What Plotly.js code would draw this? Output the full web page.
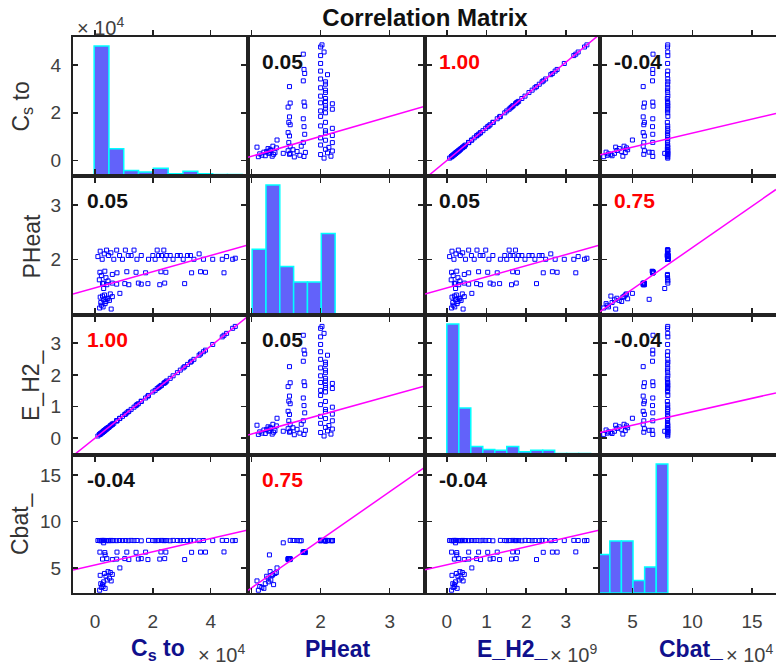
<!DOCTYPE html>
<html><head><meta charset="utf-8">
<script src="https://cdn.plot.ly/plotly-3.0.1.min.js"></script>
<style>html,body{margin:0;padding:0;overflow:hidden;background:#fff}</style>
</head><body><div id="chart" style="width:776px;height:669px"></div>
<script>
// ---------------- data ----------------
const varNames = ['C<sub>s</sub> to', 'PHeat', 'E_H2_', 'Cbat_'];
const xExponent = ['× 10<sup>4</sup>', '', '× 10<sup>9</sup>', '× 10<sup>4</sup>'];

// distinct observations (overlapping points carry a multiplicity)
const csTo = [0.16,0.22,0.28,0.35,0.20,0.30,0.42,0.50,0.26,0.56,0.18,0.33,0.45,0.60,0.38,0.53,
  0.86,0.30,0.35,
  0.15,0.22,0.30,0.38,0.45,0.60,
  0.26,0.41,0.60,0.75,1.03,1.17,1.50,1.60,1.83,2.24,2.41,3.10,
  0.17,0.34,0.76,1.10,1.42,1.75,2.28,2.45,3.34,3.65,3.82,4.46,
  0.10,0.18,0.25,0.32,0.40,0.47,0.55,0.65,0.75,0.85,0.95,
  1.05,1.15,1.25,1.35,1.45,1.60,1.85,2.00,2.08,2.15,2.20,2.30,2.38,2.42,2.48,2.60,2.70,2.85,2.95,3.05,3.20,3.30,3.42,3.60,3.75,4.07,4.40,4.55,4.76,4.85];
const pHeat = [1.10,1.15,1.12,1.18,1.20,1.25,1.28,1.24,1.32,1.08,1.30,1.34,1.27,1.31,1.22,1.36,
  1.37,1.46,1.26,
  1.62,1.70,1.56,1.66,1.60,1.72,
  1.55,1.53,1.56,1.54,1.55,1.53,1.56,1.54,1.55,1.53,1.56,1.55,
  1.76,1.78,1.75,1.77,1.76,1.75,1.77,1.76,1.75,1.77,1.76,1.75,
  2.05,2.15,2.00,2.10,2.17,2.07,2.12,2.00,2.17,2.07,2.00,
  2.17,2.07,2.07,2.17,2.00,2.07,2.00,2.07,2.00,2.17,2.07,2.07,2.17,2.00,2.07,2.07,2.00,2.07,2.07,2.00,2.07,2.07,2.00,2.10,2.00,2.00,2.00,2.05,2.00,2.02];
const eH2 = [0.12,0.16,0.20,0.26,0.15,0.22,0.31,0.36,0.19,0.41,0.13,0.24,0.33,0.44,0.28,0.39,
  0.63,0.22,0.25,
  0.11,0.16,0.22,0.28,0.33,0.44,
  0.19,0.30,0.44,0.55,0.75,0.85,1.09,1.17,1.33,1.63,1.75,2.26,
  0.12,0.25,0.55,0.80,1.03,1.27,1.66,1.78,2.43,2.66,2.78,3.25,
  0.07,0.13,0.18,0.23,0.29,0.34,0.40,0.47,0.55,0.62,0.69,
  0.76,0.84,0.91,0.98,1.06,1.16,1.35,1.46,1.51,1.57,1.60,1.67,1.73,1.76,1.81,1.89,1.97,2.07,2.15,2.22,2.33,2.40,2.49,2.62,2.73,2.96,3.20,3.31,3.47,3.53];
const cBat = [2.6,2.9,3.0,2.8,3.3,3.5,3.7,3.9,3.2,3.6,4.2,4.4,4.6,4.3,4.1,4.5,
  5.0,7.7,6.4,
  7.95,7.92,7.96,7.94,7.95,7.93,
  5.95,6.0,5.9,5.95,6.0,5.9,5.95,6.0,5.9,5.95,6.0,5.9,
  6.7,6.65,6.7,6.7,6.68,6.7,6.72,6.7,6.68,6.7,6.7,6.72,
  7.95,7.93,7.96,7.94,7.95,7.92,7.96,7.95,7.93,7.95,7.94,
  7.95,7.93,7.96,7.94,7.95,7.92,7.96,7.95,7.93,7.95,7.94,7.96,7.93,7.95,7.94,7.92,7.96,7.95,7.93,7.95,7.94,7.96,7.95,7.93,7.95,7.94,7.96,7.95,7.93,7.95];
const mult = [12,12,11,12,8,12,12,10,10,7,12,12,12,8,8,7,
  1,1,1,
  8,5,20,5,15,4,
  1,1,1,1,1,1,1,1,1,1,1,1,
  2,2,1,1,1,1,1,1,1,1,1,1,
  10,10,10,10,8,6,5,3,3,3,2,
  1,1,1,1,1,1,1,1,1,1,1,1,1,1,1,1,1,1,1,1,1,1,1,1,1,1,1,1,1,1];

// correlation coefficients printed in the panels
const corrCoef = [[1,0.05,1.00,-0.04],[0.05,1,0.05,0.75],[1.00,0.05,1,-0.04],[-0.04,0.75,-0.04,1]];

// histogram bins (diagonal)
const histStart = [-0.03, 1.01, 0.0, 2.14];
const histWidth = [0.512, 0.2, 0.302, 0.97];
const histCs = [167,35,7,5,10,3,6,3,2,2];
const histPH = [42,83,31,21,21,52];
const histEH = [167,60,11,7,6,11,4,6,6,2,2,2];
const histCb = [31,42,42,10,21,104];

// axes
const xRanges = [[-0.76,5.29],[0.95,3.51],[-0.55,3.86],[2.29,17.0]];
const yRanges = [[-0.65,5.18],[0.97,3.54],[-0.53,3.89],[2.3,17.15]];
const tickVals = [[0,2,4],[1,2,3],[0,1,2,3],[5,10,15]];
const tickText = [['0','2','4'],['','2','3'],['0','1','2','3'],['5','10','15']];

// ---------------- drawing ----------------
const vars = [csTo, pHeat, eH2, cBat];
const hists = [histCs, histPH, histEH, histCb];
const W = 776, H = 669;
const colEdges = [73, 248, 425, 600, 776];
const rowEdges = [37, 176, 315, 455, 593];
const FONT = 'Liberation Sans, Arial, Helvetica, sans-serif';
const FRAME = '#222222';

function wfit(xs, ys) {
  let sw = 0, sx = 0, sy = 0;
  for (let k = 0; k < xs.length; k++) { const w = mult[k]; sw += w; sx += w * xs[k]; sy += w * ys[k]; }
  const mx = sx / sw, my = sy / sw;
  let sxx = 0, sxy = 0;
  for (let k = 0; k < xs.length; k++) { const w = mult[k]; sxx += w * (xs[k] - mx) ** 2; sxy += w * (xs[k] - mx) * (ys[k] - my); }
  const b = sxy / sxx;
  return { a: my - b * mx, b: b };
}

const common = {
  ticks: 'inside', ticklen: 5, tickwidth: 1.5, tickcolor: FRAME,
  showline: true, linecolor: FRAME, linewidth: 2, mirror: 'allticks',
  showgrid: false, zeroline: false, fixedrange: true,
  tickfont: { family: FONT, size: 19, color: '#404040' }
};

const layout = {
  width: W, height: H, margin: { l: 0, r: 0, t: 0, b: 0 },
  showlegend: false, paper_bgcolor: '#fff', plot_bgcolor: '#fff',
  font: { family: FONT }, barmode: 'overlay', bargap: 0,
  title: { text: '<b>Correlation Matrix</b>', font: { family: FONT, size: 24, color: '#111' },
           x: 425 / W, xanchor: 'center', y: 1 - 18 / H, yanchor: 'middle', xref: 'paper', yref: 'container' },
  annotations: []
};

for (let j = 0; j < 4; j++) {
  layout[j === 0 ? 'xaxis' : 'xaxis' + (j + 1)] = Object.assign({}, common, {
    domain: [colEdges[j] / W, colEdges[j + 1] / W], range: xRanges[j], anchor: 'y4',
    tickmode: 'array', tickvals: tickVals[j], ticktext: tickText[j], ticklabelstandoff: 10
  });
}
for (let i = 0; i < 4; i++) {
  layout[i === 0 ? 'yaxis' : 'yaxis' + (i + 1)] = Object.assign({}, common, {
    domain: [1 - rowEdges[i + 1] / H, 1 - rowEdges[i] / H], range: yRanges[i], anchor: 'x',
    tickmode: 'array', tickvals: tickVals[i], ticktext: tickText[i], ticklabelstandoff: 6
  });
}

const traces = [];
for (let i = 0; i < 4; i++) {
  for (let j = 0; j < 4; j++) {
    const xa = j === 0 ? 'x' : 'x' + (j + 1);
    const ya = i === 0 ? 'y' : 'y' + (i + 1);
    if (i === j) {
      const counts = hists[i];
      const mx = Math.max(...counts);
      const yr = yRanges[i];
      traces.push({
        type: 'bar', xaxis: xa, yaxis: ya,
        x: counts.map((c, k) => histStart[i] + (k + 0.5) * histWidth[i]),
        y: counts.map(c => c / mx * 0.935 * (yr[1] - yr[0])),
        base: yr[0], width: histWidth[i],
        marker: { color: 'rgb(98,98,250)', line: { color: '#00ffff', width: 1.5 } },
        hoverinfo: 'skip'
      });
    } else {
      traces.push({
        type: 'scatter', mode: 'markers', xaxis: xa, yaxis: ya,
        x: vars[j], y: vars[i],
        marker: { symbol: 'square-open', size: 4, color: '#0000ff', line: { width: 1, color: '#0000ff' } },
        hoverinfo: 'skip'
      });
      const f = wfit(vars[j], vars[i]);
      const xr = xRanges[j];
      traces.push({
        type: 'scatter', mode: 'lines', xaxis: xa, yaxis: ya,
        x: [xr[0], xr[1]], y: [f.a + f.b * xr[0], f.a + f.b * xr[1]],
        line: { color: '#ff00ff', width: 1.5 }, hoverinfo: 'skip'
      });
      const r = corrCoef[i][j];
      layout.annotations.push({
        xref: xa + ' domain', yref: ya + ' domain', x: 0, y: 1, xanchor: 'left', yanchor: 'middle',
        xshift: 12, yshift: -24, showarrow: false,
        text: '<b>' + r.toFixed(2) + '</b>',
        font: { family: FONT, size: 21, color: Math.abs(r) >= 0.75 ? '#ff0000' : '#111' }
      });
    }
  }
}

// y labels
const yLabelX = [22, 31, 31, 20];
for (let i = 0; i < 4; i++) {
  layout.annotations.push({
    xref: 'paper', yref: 'paper', x: yLabelX[i] / W, y: 1 - (rowEdges[i] + rowEdges[i + 1]) / 2 / H,
    xanchor: 'center', yanchor: 'middle', textangle: -90, showarrow: false,
    text: varNames[i], font: { family: FONT, size: 23, color: '#333' }
  });
}
// x labels + exponents
const xLabelCx = [158, 338, 512, 691];
for (let j = 0; j < 4; j++) {
  layout.annotations.push({
    xref: 'paper', yref: 'paper', x: xLabelCx[j] / W, y: 1 - 649 / H,
    xanchor: 'center', yanchor: 'middle', showarrow: false,
    text: '<b>' + varNames[j] + '</b>', font: { family: FONT, size: 23, color: '#10108c' }
  });
  if (xExponent[j]) {
    layout.annotations.push({
      xref: 'paper', yref: 'paper', x: (colEdges[j + 1] - 1) / W, y: 1 - 653 / H,
      xanchor: 'right', yanchor: 'middle', showarrow: false,
      text: xExponent[j], font: { family: FONT, size: 20, color: '#404040' }
    });
  }
}
// y exponent of the first row
layout.annotations.push({
  xref: 'paper', yref: 'paper', x: 75 / W, y: 1 - 26 / H, xanchor: 'left', yanchor: 'middle', showarrow: false,
  text: '× 10<sup>4</sup>', font: { family: FONT, size: 20, color: '#404040' }
});

Plotly.newPlot('chart', traces, layout, { staticPlot: true, displayModeBar: false });
</script></body></html>
